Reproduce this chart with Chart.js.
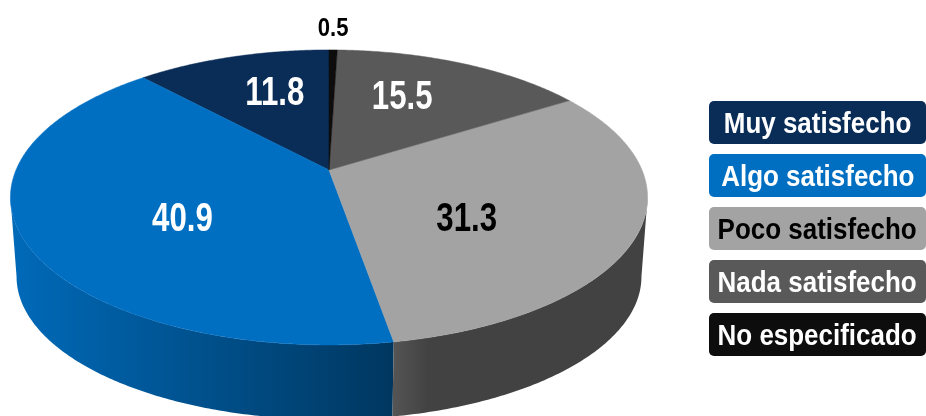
<!DOCTYPE html>
<html>
<head>
<meta charset="utf-8">
<script src="https://cdn.jsdelivr.net/npm/chart.js@4/dist/chart.umd.min.js"></script>
<style>
  html, body { margin: 0; padding: 0; background: #fff; overflow: hidden; }
  #wrap { position: relative; width: 926px; height: 416px; }
  #pie { position: absolute; left: 0; top: 0; }
  #legend { position: absolute; left: 709px; top: 101px; width: 217px; }
  #legend div {
    display: flex; justify-content: center;
    height: 43px; margin-bottom: 10px; border-radius: 5px;
    white-space: nowrap;
    font: bold 29.5px/43px "Liberation Sans", sans-serif;
  }
  /* no narrow face installed, so squeeze the bold one */
  #legend span { flex: none; transform: scaleX(0.88); }
</style>
</head>
<body>
<div id="wrap">
  <canvas id="pie" width="926" height="416"></canvas>
  <div id="legend"></div>
</div>
<script>
const categories = ['Muy satisfecho', 'Algo satisfecho', 'Poco satisfecho', 'Nada satisfecho', 'No especificado'];
const values = [11.8, 40.9, 31.3, 15.5, 0.5];
const valueLabels = ['11.8', '40.9', '31.3', '15.5', '0.5'];
const colors = ['#0a2d57', '#006fc2', '#a3a3a3', '#595959', '#0d0d0d'];
const textColors = ['#fff', '#fff', '#000', '#fff', '#fff'];
const pieLabelColors = ['#fff', '#fff', '#000', '#fff', '#000'];

// side wall shades, left to right
const sideColors = [
  ['#0a2d57', '#0a2d57'],
  ['#006ab9', '#003760'],
  ['#555555', '#424242'],
  ['#3a3a3a', '#3a3a3a'],
  ['#0d0d0d', '#0d0d0d']
];

// tilted disc, the far edge is a bit smaller than the near one
const top3d = { x: 329, y: 170, rx: 313, ry: 142.4 };
const bottom3d = { x: 329, y: 250, rx: 307, ry: 138 };
const tilt = 0.186;
const frontFrom = Math.acos(-tilt);
const frontTo = 2 * Math.PI - frontFrom;

// label placement: how far out on the slice, then a small nudge
const labelFrac = [0.65, 0.5, 0.5, 0.65, 1];
const labelNudge = [[12, 2], [0, 17], [-11, 19.5], [-18, 1], [0, -21.5]];

function project(disc, theta, r) {
  // theta runs from the top, the chart goes round the other way in the picture
  const u = -Math.sin(theta) * r;
  const v = Math.cos(theta) * r;
  const w = 1 + tilt * v;
  return [disc.x + disc.rx * u / w, disc.y - disc.ry * v / w];
}

function rimPoints(disc, a, b) {
  const pts = [];
  const steps = Math.max(2, Math.ceil(Math.abs(b - a) / 0.01));
  for (let i = 0; i <= steps; i++) {
    pts.push(project(disc, a + (b - a) * i / steps, 1));
  }
  return pts;
}

function thetaOf(arc) {
  return [arc.startAngle + Math.PI / 2, arc.endAngle + Math.PI / 2];
}

const pie3d = {
  id: 'pie3d',
  beforeDatasetsDraw(chart) {
    const ctx = chart.ctx;
    const arcs = chart.getDatasetMeta(0).data;

    // side wall
    arcs.forEach((arc, i) => {
      const [s, e] = thetaOf(arc);
      const a = Math.max(s, frontFrom);
      const b = Math.min(e, frontTo);
      if (a >= b) return;
      const upper = rimPoints(top3d, a, b);
      const lower = rimPoints(bottom3d, b, a);
      const xs = upper.concat(lower).map(p => p[0]);
      const g = ctx.createLinearGradient(Math.min(...xs), 0, Math.max(...xs), 0);
      // the grey part only fades over its first stretch
      g.addColorStop(0, sideColors[i][0]);
      if (i === 2) g.addColorStop(0.14, sideColors[i][1]);
      g.addColorStop(1, sideColors[i][1]);
      ctx.fillStyle = g;
      ctx.beginPath();
      upper.concat(lower).forEach((p, k) => k ? ctx.lineTo(p[0], p[1]) : ctx.moveTo(p[0], p[1]));
      ctx.closePath();
      ctx.fill();
    });

    // top face
    arcs.forEach((arc, i) => {
      const [s, e] = thetaOf(arc);
      ctx.fillStyle = colors[i];
      ctx.strokeStyle = colors[i];
      ctx.lineWidth = 0.5;
      ctx.beginPath();
      ctx.moveTo(top3d.x, top3d.y);
      rimPoints(top3d, s, e).forEach(p => ctx.lineTo(p[0], p[1]));
      ctx.closePath();
      ctx.fill();
      ctx.stroke();
    });

    // value labels
    ctx.textAlign = 'center';
    ctx.textBaseline = 'middle';
    arcs.forEach((arc, i) => {
      const [s, e] = thetaOf(arc);
      const p = project(top3d, (s + e) / 2, labelFrac[i]);
      const small = values[i] < 1;
      ctx.save();
      ctx.translate(p[0] + labelNudge[i][0], p[1] + labelNudge[i][1]);
      ctx.scale(small ? 0.85 : 0.78, 1);
      ctx.font = (small ? 'bold 26px' : 'bold 40px') + ' "Liberation Sans", sans-serif';
      ctx.fillStyle = pieLabelColors[i];
      ctx.fillText(valueLabels[i], 0, 0);
      ctx.restore();
    });
    return false;
  }
};

new Chart(document.getElementById('pie'), {
  type: 'pie',
  data: {
    labels: categories,
    datasets: [{ data: values, backgroundColor: colors, borderWidth: 0 }]
  },
  options: {
    responsive: false,
    animation: false,
    plugins: { legend: { display: false }, tooltip: { enabled: false } }
  },
  plugins: [pie3d]
});

// legend boxes
const legend = document.getElementById('legend');
categories.forEach((name, i) => {
  const box = document.createElement('div');
  const text = document.createElement('span');
  text.textContent = name;
  box.appendChild(text);
  box.style.background = colors[i];
  box.style.color = textColors[i];
  legend.appendChild(box);
});
</script>
</body>
</html>
